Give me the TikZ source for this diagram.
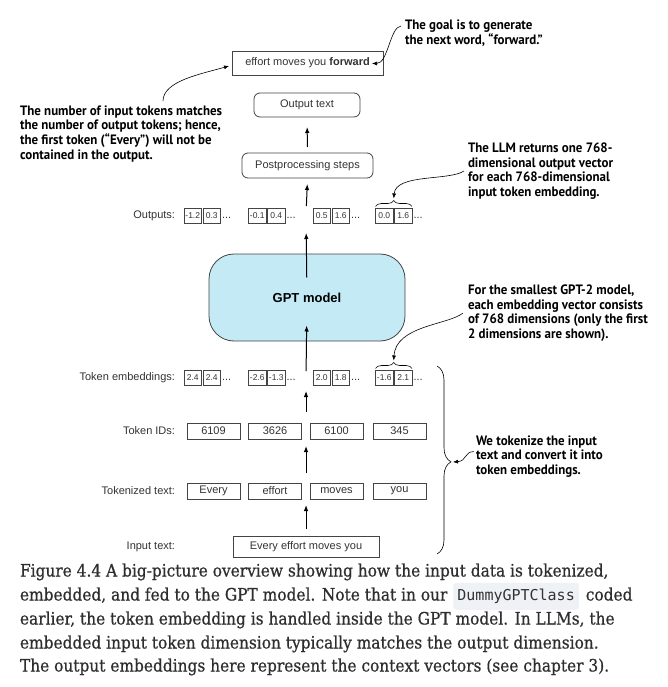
\documentclass[tikz,border=0pt]{standalone}
\usepackage{fontspec}
\setmainfont{Liberation Sans}
\newfontfamily\annotfont[FakeStretch=0.95]{PT Sans}
\newfontfamily\capfont[FakeStretch=0.9,FakeBold=0.6]{DejaVu Serif}
\newfontfamily\codefont{DejaVu Sans Mono}
\usetikzlibrary{arrows.meta,decorations.pathreplacing,calc}
\definecolor{ink}{HTML}{333333}
\definecolor{capink}{HTML}{2E2E2E}
\definecolor{frame}{HTML}{444444}
\definecolor{gptfill}{HTML}{C3EAF5}
\definecolor{codebg}{HTML}{EEF1F5}
\begin{document}
\begin{tikzpicture}[x=1pt,y=-1pt,
  every node/.style={inner sep=0pt, outer sep=0pt},
  lbl/.style={font=\fontsize{11}{13}\selectfont, text=ink, anchor=east},
  plainbox/.style={draw=frame, line width=0.8pt, font=\fontsize{11}{13}\selectfont, text=ink},
  tbox/.style={plainbox, minimum width=53pt, minimum height=16pt},
  nbox/.style={draw=frame, line width=0.6pt, minimum width=17.5pt, minimum height=15pt, font=\fontsize{8.5}{10}\selectfont, text=ink},
  dotsl/.style={font=\fontsize{11}{13}\selectfont, text=ink, anchor=base west},
  rbox/.style={plainbox, rounded corners=6pt},
  annot/.style={font=\annotfont\bfseries\fontsize{13.6}{14.8}\selectfont, text=black, align=left, anchor=north west},
  flow/.style={draw=black, line width=1pt, -{Latex[length=6pt,width=4.5pt]}},
  callout/.style={draw=black, line width=0.6pt, -{Latex[length=5pt,width=4pt]}},
  bracestyle/.style={draw=black, line width=0.6pt, decorate},
  captxt/.style={font=\capfont\fontsize{17.1}{20}\selectfont, text=capink, anchor=base west},
]
\fill[white] (0,0) rectangle (667,687);
\useasboundingbox (0,0) rectangle (667,687);

% ---------- top part
\node[plainbox, minimum width=151pt, minimum height=24pt] (goalbox) at (307.5,63) {effort moves you \textbf{forward}};
\node[rbox, minimum width=106pt, minimum height=24pt] (outtext) at (307,105) {Output text};
\node[rbox, minimum width=131pt, minimum height=25pt] (post) at (307.5,165.5) {Postprocessing steps};

% ---------- GPT model
\node[draw=frame, line width=0.8pt, fill=gptfill, rounded corners=25pt, minimum width=196pt, minimum height=87pt,
      font=\bfseries\fontsize{13}{15}\selectfont, text=black] (gpt) at (307,297.5) {GPT model};

% ---------- row labels
\node[lbl] (lout) at (175,216) {Outputs:};
\node[lbl] (lemb) at (175,378) {Token embeddings:};
\node[lbl] (lid) at (175,431) {Token IDs:};
\node[lbl] (ltok) at (175,491) {Tokenized text:};
\node[lbl] (lin) at (175,547) {Input text:};

% ---------- outputs row
\foreach \g/\gx/\va/\vb in {1/184/-1.2/0.3, 2/248.5/-0.1/0.4, 3/313/0.5/1.6, 4/375.5/0.0/1.6}{
  \node[nbox, anchor=west] (o\g-a) at (\gx,216) {\va};
  \node[nbox, anchor=west] (o\g-b) at ([xshift=1.5pt]o\g-a.east) {\vb};
  \node[dotsl] (o\g-d) at ([xshift=1.5pt]o\g-b.base east) {...};
}
% ---------- embeddings row
\foreach \g/\gx/\va/\vb in {1/184/2.4/2.4, 2/248.5/-2.6/-1.3, 3/313/2.0/1.8, 4/375.5/-1.6/2.1}{
  \node[nbox, anchor=west] (e\g-a) at (\gx,378) {\va};
  \node[nbox, anchor=west] (e\g-b) at ([xshift=1.5pt]e\g-a.east) {\vb};
  \node[dotsl] (e\g-d) at ([xshift=1.5pt]e\g-b.base east) {...};
}
% ---------- token IDs and tokens
\foreach \g/\gx/\vid/\vtok in {1/213.5/6109/Every, 2/275/3626/effort, 3/336.5/6100/moves, 4/399.5/345/you}{
  \node[tbox] (id\g) at (\gx,431) {\vid};
  \node[tbox] (tok\g) at (\gx,491) {\vtok};
}
\node[plainbox, minimum width=146pt, minimum height=21pt] (input) at (306,546.5) {Every effort moves you};

% ---------- spine
\coordinate (sp-tok) at (306,491);
\coordinate (sp-id) at (306,431);
\coordinate (sp-emb) at (306,378);
\coordinate (sp-out) at (306,216);

\draw[flow, shorten <=7pt, shorten >=14pt] (input.north) -- (sp-tok);
\draw[flow, shorten <=18pt, shorten >=15pt] (sp-tok) -- (sp-id);
\draw[flow, shorten <=19pt, shorten >=13pt] (sp-id) -- (sp-emb);
\draw[flow, shorten <=7pt, shorten >=28pt] (sp-emb) -- (gpt.center);
\draw[flow, shorten <=20pt, shorten >=17pt] (gpt.center) -- (sp-out);
\draw[flow, shorten <=10pt, shorten >=6pt] (sp-out) -- (post.south);
\draw[flow, shorten <=6pt, shorten >=10pt] (post.north) -- (outtext.south);

% ---------- braces
\draw[bracestyle, decoration={brace, amplitude=6pt}] ([yshift=2pt]o4-a.north west) -- ([yshift=2pt]o4-b.north east);
\draw[bracestyle, decoration={brace, amplitude=6pt}] ([yshift=2pt]e4-a.north west) -- ([yshift=2pt]e4-b.north east);
\coordinate (obrace) at ($([yshift=10pt]o4-a.north west)!0.5!([yshift=10pt]o4-b.north east)$);
\coordinate (ebrace) at ($([yshift=10pt]e4-a.north west)!0.5!([yshift=10pt]e4-b.north east)$);
\coordinate (bigtop) at (437,366);
\coordinate (bigbot) at (437,554);
\draw[bracestyle, decoration={brace, amplitude=14pt, aspect=0.51}] (bigtop) -- (bigbot);
\coordinate (bigtip) at (453,462);

% ---------- annotations
\node[annot] (goalnote) at (405,20) {The goal is to generate\\the next word, “forward.”};
\node[annot] (leftnote) at (20,105.5) {The number of input tokens matches\\the number of output tokens; hence,\\the first token (“Every”) will not be\\contained in the output.};
\node[annot] (llmnote) at (468,142.5) {The LLM returns one 768-\\dimensional output vector\\for each 768-dimensional\\input token embedding.};
\node[annot] (g2note) at (468,284.5) {For the smallest GPT-2 model,\\each embedding vector consists\\of 768 dimensions (only the first\\2 dimensions are shown).};
\node[annot] (toknote) at (476,435.5) {We tokenize the input\\text and convert it into\\token embeddings.};

\coordinate (ln-s) at (163,101);
\draw[callout] ([shift={(-4pt,-6pt)}]goalnote.north west) .. controls +(-11,1) and +(16,0) .. ([xshift=-11pt,yshift=-0.5pt]goalbox.east);
\draw[callout] (ln-s) .. controls +(0,-20) and +(-28,8) .. ([xshift=-3pt,yshift=-3pt]goalbox.west);
\draw[callout] ([xshift=-4pt]llmnote.west) .. controls +(-15,10) and +(2,-25) .. (obrace);
\draw[callout] ([xshift=-5pt]g2note.west) .. controls +(-15,12) and +(2,-35) .. (ebrace);
\draw[callout] ([xshift=-2pt,yshift=5pt]toknote.west) .. controls +(-10,0) and +(14,-1) .. (bigtip);

% ---------- caption
\node[captxt] (c1) at (20,576.5) {Figure 4.4 A big-picture overview showing how the input data is tokenized,};
\node[captxt] (c2) at (20,600.5) {embedded, and fed to the GPT model. Note that in our};
\node[anchor=base west, fill=codebg, rounded corners=3pt, inner xsep=4pt, minimum height=27pt,
      font=\codefont\fontsize{15}{17}\selectfont, text=ink] (code) at ([xshift=6pt]c2.base east) {DummyGPTClass};
\node[captxt] (c2b) at ([xshift=7pt]code.base east) {coded};
\node[captxt] (c3) at (20,624.5) {earlier, the token embedding is handled inside the GPT model. In LLMs, the};
\node[captxt] (c4) at (20,648.5) {embedded input token dimension typically matches the output dimension.};
\node[captxt] (c5) at (20,671.5) {The output embeddings here represent the context vectors (see chapter 3).};
\end{tikzpicture}
\end{document}
